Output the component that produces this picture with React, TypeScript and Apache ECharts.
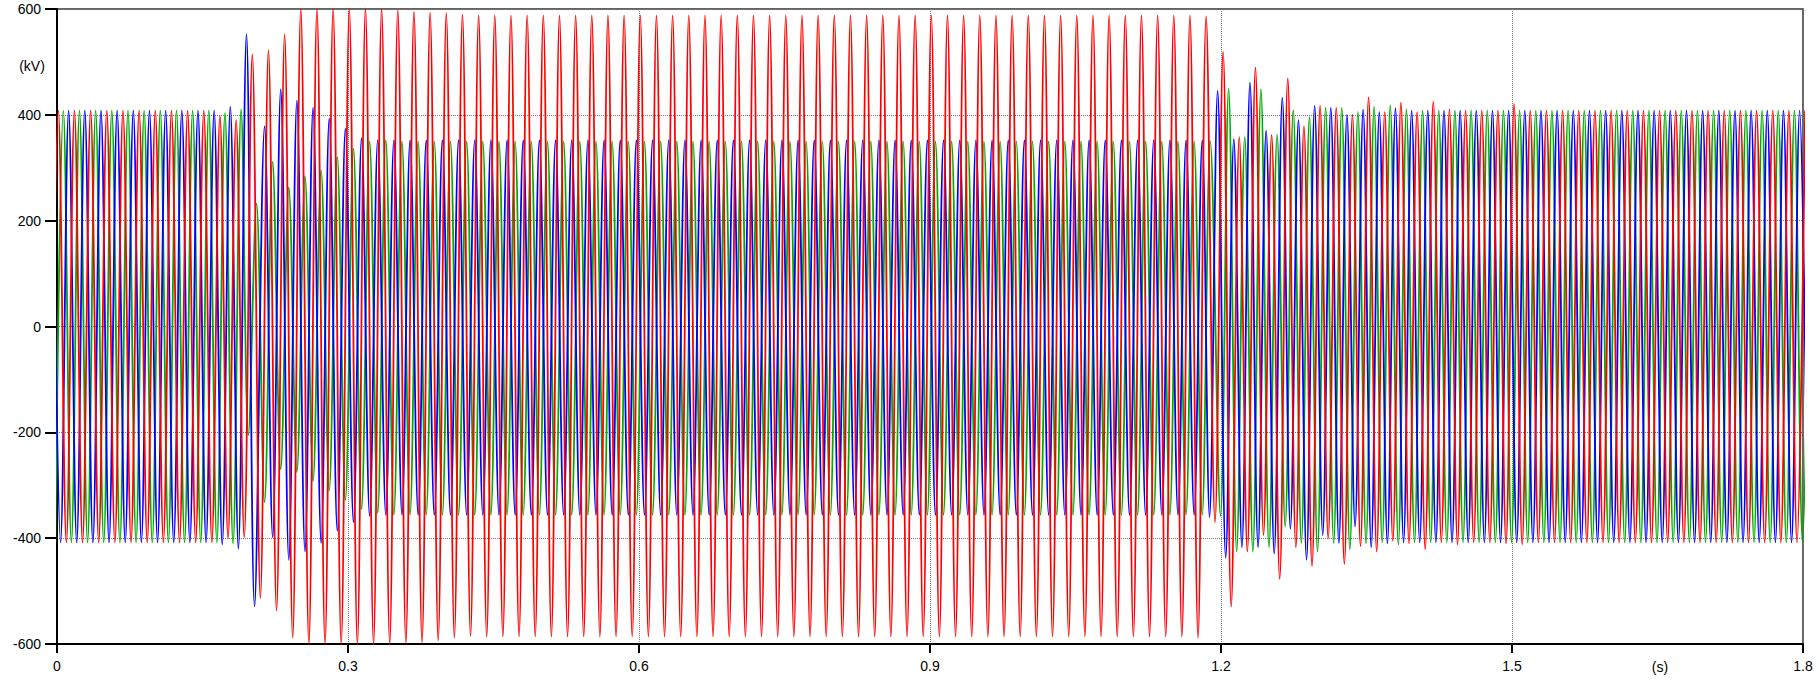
import React, { useEffect, useRef } from "react";
import * as echarts from "echarts";

// ---- axes ----
const X_MIN = 0;
const X_MAX = 1.8;
const X_STEP = 0.3;
const Y_MIN = -600;
const Y_MAX = 600;
const Y_STEP = 200;
const X_UNIT = "(s)";
const Y_UNIT = "(kV)";

// 60 Hz system: successive extrema (peak / trough) are half a cycle apart
const HALF_CYCLE_S = 1 / 120;

// ---- phase A (red): time of first extremum of each segment, then successive extrema in kV ----
const redSeg1Start = -0.007;
const redSeg1 = [
  -408, 408, -408, 408, -408, 408, -408, 408, -408, 408, -408, 408, -408, 408, -408, 408, -408, 408, -408, 408,
  -408, 398, -400, 390, -398, 514, -513, 522, -537, 552, -588,
  600, -600, 600, -600, 600, -600, 600, -600, 600, -600, 600, -600,
  598, -598, 595, -597, 593, -593, 592, -588, 590, -585,
  588, -586, 588, -586, 588, -586, 588, -586, 588, -586, 588, -586, 588, -586, 588, -586, 588, -586, 588, -586,
  588, -586, 588, -586, 588, -586, 588, -586, 588, -586, 588, -586, 588, -586, 588, -586, 588, -586, 588, -586,
  588, -586, 588, -586, 588, -586, 588, -586, 588, -586, 588, -586, 588, -586, 588, -586, 588, -586, 588, -586,
  588, -586, 588, -586, 588, -586, 588, -586, 588, -586, 588, -586, 588, -586, 588, -586, 588, -586, 588, -586,
  588, -586, 588, -586, 588, -586, 588, -586, 588, -588,
  586,
];
const redSeg2Start = 1.19383;
const redSeg2 = [
  -370, 519, -529, 358, -425, 489, -394, 362, -477, 469,
  -417, 378, -453, 417, -400, 413, -449, 400, -415, 433,
  -425, 405, -405, 423, -410, 405, -421, 425, -408, 410,
  -412, 408, -408, 408, -408, 408, -410, 420, -412, 408,
  -408, 408, -408, 408, -408, 408, -408, 408, -408, 408, -408, 408, -408, 408, -408, 408, -408, 408, -408, 408,
  -408, 408, -408, 408, -408, 408, -408, 408, -408, 408, -408, 408, -408, 408,
];

// ---- phase B (green) ----
const greenSeg1Start = -0.00183;
const greenSeg1 = [
  -408, 408, -408, 408, -408, 408, -408, 408, -408, 408, -408, 408, -408, 408, -408, 408, -408, 408, -408, 408,
  -408, 403, -410, 410,
];
const greenSeg2Start = 0.1973;
const greenSeg2 = [
  -205, 232, -332, 311, -270, 263, -275, 284, -292, 295,
  -310, 320, -328, 336, -345, 350, -352, 352,
  -356, 350, -356, 350, -356, 350, -356, 350, -356, 350, -356, 350, -356, 350, -356, 350, -356, 350, -356, 350,
  -356, 350, -356, 350, -356, 350, -356, 350, -356, 350, -356, 350, -356, 350, -356, 350, -356, 350, -356, 350,
  -356, 350, -356, 350, -356, 350, -356, 350, -356, 350, -356, 350, -356, 350, -356, 350, -356, 350, -356, 350,
  -356, 350, -356, 350, -356, 350, -356, 350, -356, 350, -356, 350, -356, 350, -356, 350, -356, 350, -356, 350,
  -356, 350, -356, 350, -356, 350, -356, 350, -356, 350, -356, 350, -356, 350, -356, 350, -356, 350, -356, 350,
  -356, 350,
];
const greenSeg3Start = 1.1995;
const greenSeg3 = [
  -358, 449, -425, 358, -425, 448, -417, 362, -378, 409,
  -409, 395, -425, 413, -409, 413, -421, 405, -410, 415,
  -408, 418, -412, 410,
  -408, 408, -408, 408, -408, 408, -408, 408, -408, 408, -408, 408, -408, 408, -408, 408, -408, 408, -408, 408,
  -408, 408, -408, 408, -408, 408, -408, 408, -408, 408, -408, 408, -408, 408, -408, 408, -408, 408, -408, 408,
  -408, 408, -408, 408, -408, 408, -408, 408, -408, 408,
];

// ---- phase C (blue) ----
const blueSeg1Start = -0.00467;
const blueSeg1 = [
  408, -408, 408, -408, 408, -408, 408, -408, 408, -408, 408, -408, 408, -408, 408, -408, 408, -408, 408, -408,
  408, -412, 415, -420, 552, -529,
];
const blueSeg2Start = 0.214;
const blueSeg2 = [
  378, -398, 448, -441, 427, -425, 413, -409, 393, -386,
  374, -370, 356, -358,
  352, -356, 352, -356, 352, -356, 352, -356, 352, -356, 352, -356, 352, -356, 352, -356, 352, -356, 352, -356,
  352, -356, 352, -356, 352, -356, 352, -356, 352, -356, 352, -356, 352, -356, 352, -356, 352, -356, 352, -356,
  352, -356, 352, -356, 352, -356, 352, -356, 352, -356, 352, -356, 352, -356, 352, -356, 352, -356, 352, -356,
  352, -356, 352, -356, 352, -356, 352, -356, 352, -356, 352, -356, 352, -356, 352, -356, 352, -356, 352, -356,
  352, -356, 352, -356, 352, -356, 352, -356, 352, -356, 352, -356, 352, -356, 352, -356, 352, -356, 352, -356,
  352, -356,
  352,
];
const blueSeg3Start = 1.1882;
const blueSeg3 = [
  -360, 445, -437, 354, -417, 461, -417, 370, -429, 432,
  -382, 390, -441, 417, -394, 413, -409, 400, -378, 410,
  -417, 405, -410, 412,
  -408, 408, -408, 408, -408, 408, -408, 408, -408, 408, -408, 408, -408, 408, -408, 408, -408, 408, -408, 408,
  -408, 408, -408, 408, -408, 408, -408, 408, -408, 408, -408, 408, -408, 408, -408, 408, -408, 408, -408, 408,
  -408, 408, -408, 408, -408, 408, -408, 408, -408, 408,
  -408,
];

function buildPoints(segments: Array<[number, number[]]>): [number, number][] {
  const pts: [number, number][] = [];
  for (const [start, values] of segments) {
    values.forEach((v, i) => pts.push([start + i * HALF_CYCLE_S, v]));
  }
  return pts;
}

const FONT = '"Liberation Sans", Arial, sans-serif';

export default function App() {
  const ref = useRef<HTMLDivElement>(null);

  useEffect(() => {
    if (!ref.current) return;
    const chart = echarts.init(ref.current, undefined, { renderer: "svg" });

    const splitLine = { show: true, lineStyle: { color: "#777777", type: "dotted" as const, width: 1 } };
    const lineSeries = (name: string, color: string, data: [number, number][]) => ({
      name,
      type: "line" as const,
      data,
      smooth: 0.35,
      showSymbol: false,
      symbol: "none",
      clip: true,
      lineStyle: { color, width: 1.8 },
      emphasis: { disabled: true },
    });

    chart.setOption({
      animation: false,
      backgroundColor: "#ffffff",
      grid: {
        left: 57,
        right: 16,
        top: 9,
        bottom: 40,
        show: true,
        borderColor: "#333333",
        borderWidth: 1.5,
      },
      xAxis: {
        type: "value",
        min: X_MIN,
        max: X_MAX,
        interval: X_STEP,
        axisLine: { show: true, onZero: false, lineStyle: { color: "#000", width: 2 } },
        axisTick: { show: true, length: 9, lineStyle: { color: "#000", width: 2 } },
        axisLabel: {
          margin: 15,
          color: "#000",
          fontFamily: FONT,
          fontSize: 14,
          formatter: (v: number) => String(Math.round(v * 10) / 10),
        },
        splitLine,
      },
      yAxis: {
        type: "value",
        min: Y_MIN,
        max: Y_MAX,
        interval: Y_STEP,
        axisLine: { show: true, onZero: false, lineStyle: { color: "#000", width: 2 } },
        axisTick: { show: true, length: 12, lineStyle: { color: "#000", width: 2 } },
        axisLabel: {
          margin: 16,
          color: "#000",
          fontFamily: FONT,
          fontSize: 14,
        },
        splitLine,
      },
      graphic: [
        {
          type: "text",
          x: 32,
          y: 66,
          style: { text: Y_UNIT, fill: "#000", font: `14px ${FONT}`, align: "center", verticalAlign: "middle" },
        },
        {
          type: "text",
          x: 1660,
          y: 667,
          style: { text: X_UNIT, fill: "#000", font: `14px ${FONT}`, align: "center", verticalAlign: "middle" },
        },
      ],
      series: [
        lineSeries("Phase B", "#00aa00", buildPoints([[greenSeg1Start, greenSeg1], [greenSeg2Start, greenSeg2], [greenSeg3Start, greenSeg3]])),
        lineSeries("Phase C", "#0000ff", buildPoints([[blueSeg1Start, blueSeg1], [blueSeg2Start, blueSeg2], [blueSeg3Start, blueSeg3]])),
        lineSeries("Phase A", "#ff0000", buildPoints([[redSeg1Start, redSeg1], [redSeg2Start, redSeg2]])),
      ],
    });

    return () => chart.dispose();
  }, []);

  return (
    <div
      ref={ref}
      style={{ position: "fixed", left: 0, top: 0, width: 1819, height: 684, background: "#fff" }}
    />
  );
}
